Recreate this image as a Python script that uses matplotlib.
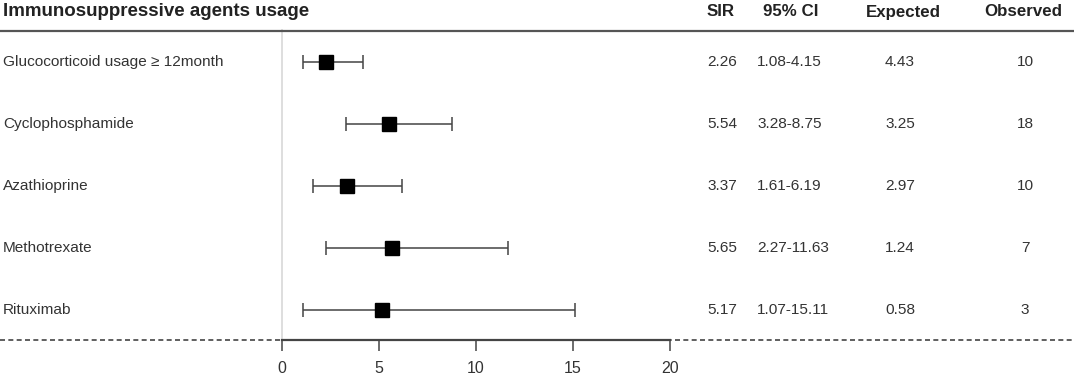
import matplotlib
matplotlib.use("Agg")
import matplotlib.pyplot as plt
from matplotlib.lines import Line2D

plt.rcParams['font.family'] = ['Liberation Sans', 'DejaVu Sans']

# data
agents = ['Glucocorticoid usage \u2265 12month', 'Cyclophosphamide', 'Azathioprine',
          'Methotrexate', 'Rituximab']
sir = [2.26, 5.54, 3.37, 5.65, 5.17]
ci_low = [1.08, 3.28, 1.61, 2.27, 1.07]
ci_high = [4.15, 8.75, 6.19, 11.63, 15.11]
expected = ['4.43', '3.25', '2.97', '1.24', '0.58']
observed = ['10', '18', '10', '7', '3']
x_ticks = [0, 5, 10, 15, 20]

W, H = 1074, 378
fig = plt.figure(figsize=(W / 100, H / 100), dpi=100)


def fx(px):
    return px / W


def fy(py):
    return 1 - py / H


# forest panel: x from 0 (px 282) to 20 (px 670), rows between header line and axis
ax = fig.add_axes([fx(282), fy(340), fx(670) - fx(282), fy(30) - fy(340)])
ax.set_xlim(0, 20)
ax.set_ylim(4.484, -0.516)
rows = list(range(len(agents)))

lo_err = [s - l for s, l in zip(sir, ci_low)]
hi_err = [h - s for s, h in zip(sir, ci_high)]
ax.errorbar(sir, rows, xerr=[lo_err, hi_err], fmt='none', ecolor='#444444',
            elinewidth=1.1, capsize=4.8, capthick=1.1, zorder=2)
ax.plot(sir, rows, 's', color='black', markersize=9.5, zorder=3)

for s in ['top', 'right']:
    ax.spines[s].set_visible(False)
ax.spines['left'].set_color('#d8d8d8')
ax.spines['left'].set_linewidth(1.2)
ax.spines['bottom'].set_color('#444444')
ax.spines['bottom'].set_linewidth(1.6)
ax.spines['bottom'].set_zorder(5)
ax.set_yticks([])
ax.set_xticks(x_ticks)
ax.tick_params(axis='x', direction='out', length=8, width=1.1, color='#444444',
               labelsize=11.5, labelcolor='#333333', pad=7)
ax.patch.set_alpha(0)

# dashed baseline across the whole figure and header rule
fig.add_artist(Line2D([0, 1], [fy(340), fy(340)], color='#444444', lw=1.2,
                      linestyle=(0, (3, 2)), zorder=1))
fig.add_artist(Line2D([0, 1], [fy(31), fy(31)], color='#555555', lw=1.6, zorder=1))

# headers
fig.text(fx(3), fy(12), 'Immunosuppressive agents usage', fontsize=13.5,
         fontweight='bold', color='#222222', va='center', ha='left')
hdr = [('SIR', 721), ('95% CI', 791), ('Expected', 903), ('Observed', 1023)]
for t, x in hdr:
    fig.text(fx(x), fy(12), t, fontsize=12.2, fontweight='bold', color='#222222',
             va='center', ha='center')

# row texts
fs = 11.1
for i, name in enumerate(agents):
    y = fy(62 + 62 * i)
    fig.text(fx(3), y, name, fontsize=fs, color='#333333', va='center', ha='left')
    fig.text(fx(707), y, f'{sir[i]:.2f}', fontsize=fs, color='#333333', va='center', ha='left')
    fig.text(fx(757), y, f'{ci_low[i]:.2f}-{ci_high[i]:.2f}', fontsize=fs,
             color='#333333', va='center', ha='left')
    fig.text(fx(900), y, expected[i], fontsize=fs, color='#333333', va='center', ha='center')
    fig.text(fx(1025), y, observed[i], fontsize=fs, color='#333333', va='center', ha='center')

fig.savefig('out.png', dpi=100)
